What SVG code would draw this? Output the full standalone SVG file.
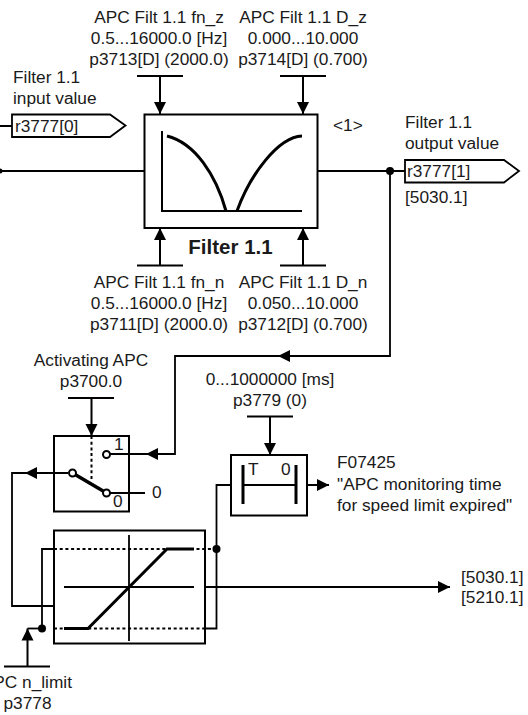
<svg xmlns="http://www.w3.org/2000/svg" width="528" height="715" viewBox="0 0 528 715">
<style>
text{font-family:"Liberation Sans",Arial,sans-serif;font-size:17.3px;fill:#1a1a1a}
.m{text-anchor:middle}
.l,.b,.t,.d,.k{fill:none;stroke:#000;stroke-linecap:butt}
.l{stroke-width:1.8}
.b{stroke-width:2}
.k{stroke-width:3}
.d{stroke-width:2;stroke-dasharray:3 2.700}
.o{fill:#fff;stroke:#000;stroke-width:2}
.f{fill:#000}
</style>
<defs>
<marker id="a" markerUnits="userSpaceOnUse" markerWidth="13" markerHeight="13" refX="12" refY="6.5" orient="auto"><path d="M0 0.5L12 6.5L0 12.5Z" fill="#000"/></marker>
</defs>
<g id="connectors">
<path class="b" d="M137 76H183M160 76V114" marker-end="url(#a)"/>
<path class="b" d="M280 76H326M303 76V114" marker-end="url(#a)"/>
<path class="b" d="M137 265.500H183M160 265.500V228" marker-end="url(#a)"/>
<path class="b" d="M280 265.500H326M303 265.500V228" marker-end="url(#a)"/>
<path class="l" d="M0 126H12M0 171H144"/>
<circle class="f" cx="0" cy="171" r="2.500"/>
<path class="l" d="M318 171H405"/>
<circle class="f" cx="390" cy="171" r="4"/>
<path class="l" d="M390 171V356H278" marker-end="url(#a)"/>
<path class="l" d="M278 356H175V454H146" marker-end="url(#a)"/>
<path class="l" d="M146 454H110"/>
<path class="b" d="M68 398H114M91.500 398V436" marker-end="url(#a)"/>
<path class="l" d="M68 473H25" marker-end="url(#a)"/>
<path class="l" d="M25 473H12V606H53.500"/>
<path class="l" d="M110 493H145"/>
<path class="b" d="M247 416.500H293M270 416.500V455" marker-end="url(#a)"/>
<path class="b" d="M307 485H329" marker-end="url(#a)"/>
<path class="l" d="M205 587H450" marker-end="url(#a)"/>
<path class="l" d="M53.500 549H42V628.500M205 628.500H216.500V485H231"/>
<circle class="f" cx="216.500" cy="549" r="4"/>
<circle class="f" cx="42" cy="628.500" r="4"/>
<path class="b" d="M4 666.500H50M27.500 666.500V628.500" marker-end="url(#a)"/>
<path class="l" d="M27.500 628.500H42"/>
</g>
<g id="filter">
<rect class="b" x="144.500" y="114.500" width="173" height="113.500" fill="#fff"/>
<path class="b" d="M162 131V211H302"/>
<path class="k" d="M167 136C195 143 216 175 226 211M237 211C250 175 278 137 302 136"/>
<text x="230.500" y="254" class="m" style="font-weight:bold;font-size:20.500px">Filter 1.1</text>
</g>
<g id="label-fnz"><text class="m" x="159" y="23">APC Filt 1.1 fn_z</text><text class="m" x="159" y="44">0.5...16000.0 [Hz]</text><text class="m" x="159" y="65">p3713[D] (2000.0)</text></g>
<g id="label-dz"><text class="m" x="303" y="23">APC Filt 1.1 D_z</text><text class="m" x="303" y="44">0.000...10.000</text><text class="m" x="303" y="65">p3714[D] (0.700)</text></g>
<g id="label-fnn"><text class="m" x="159" y="288">APC Filt 1.1 fn_n</text><text class="m" x="159" y="309">0.5...16000.0 [Hz]</text><text class="m" x="159" y="330">p3711[D] (2000.0)</text></g>
<g id="label-dn"><text class="m" x="303" y="288">APC Filt 1.1 D_n</text><text class="m" x="303" y="309">0.050...10.000</text><text class="m" x="303" y="330">p3712[D] (0.700)</text></g>
<g id="input-tag">
<text x="13" y="83">Filter 1.1</text><text x="13" y="104">input value</text>
<path class="l" d="M12 114.500H110L125.500 125.500L110 137H12Z" fill="#fff"/>
<text x="15" y="132">r3777[0]</text>
</g>
<text x="333" y="131">&lt;1&gt;</text>
<g id="output-tag">
<text x="405" y="128">Filter 1.1</text><text x="405" y="149">output value</text>
<path class="l" d="M405 160H504L519 171L504 182.500H405Z" fill="#fff"/>
<text x="407" y="177">r3777[1]</text>
<text x="405" y="203">[5030.1]</text>
</g>
<g id="activating-label"><text class="m" x="91" y="366">Activating APC</text><text class="m" x="91" y="387">p3700.0</text></g>
<g id="switch">
<rect class="b" x="54" y="436" width="75" height="75.500" fill="none"/>
<path class="d" d="M91.500 436V480"/>
<path d="M72.500 473L106.500 493" stroke="#000" stroke-width="3.500"/>
<path class="l" d="M110 454H146"/>
<circle class="o" cx="106.500" cy="454.500" r="3.500"/>
<circle class="o" cx="72.500" cy="473" r="3.500"/>
<circle class="o" cx="106.500" cy="493" r="3.500"/>
<text x="114" y="450">1</text>
<text x="113" y="507">0</text>
<text x="152" y="498" >0</text>
</g>
<g id="timer-label"><text class="m" x="270" y="385">0...1000000 [ms]</text><text class="m" x="270" y="406">p3779 (0)</text></g>
<g id="timer">
<rect class="b" x="231" y="455" width="76" height="60.500" fill="#fff"/>
<path class="k" d="M243 465V504M296 465V504"/>
<path class="b" d="M243 485H296"/>
<text x="248" y="475">T</text><text x="281" y="475">0</text>
</g>
<g id="fault"><text x="337" y="468">F07425</text><text x="337" y="490">"APC monitoring time</text><text x="337" y="511">for speed limit expired"</text></g>
<g id="limiter">
<rect class="b" x="54" y="530.500" width="151" height="113" fill="none"/>
<path class="d" d="M54 549H216M54 628.500H205"/>
<path class="l" d="M129 535V641M64 587H194"/>
<path class="k" d="M64 628.500H88L167 549H194"/>
</g>
<g id="targets"><text x="461" y="583">[5030.1]</text><text x="461" y="603">[5210.1]</text></g>
<g id="limit-label"><text x="72" y="688" text-anchor="end">APC n_limit</text><text class="m" x="27.500" y="709">p3778</text></g>
</svg>
